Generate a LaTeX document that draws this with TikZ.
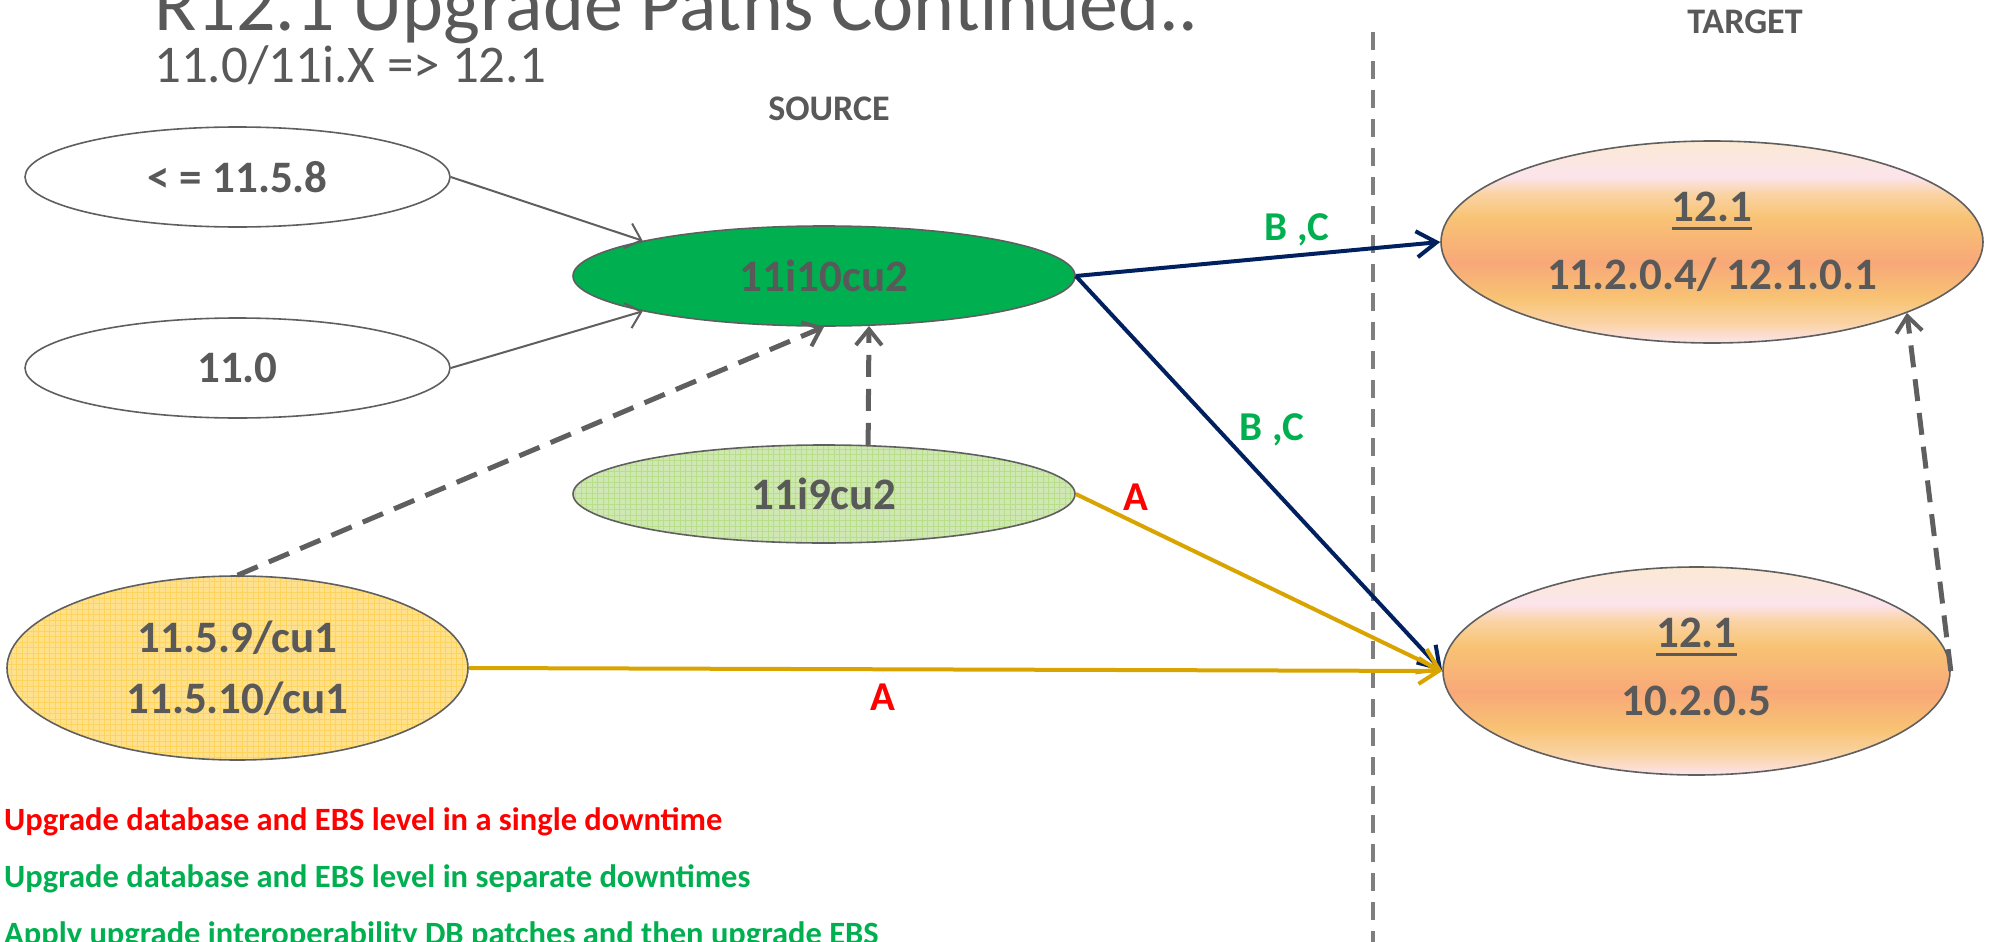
\documentclass[tikz,border=0pt]{standalone}
\usepackage{fontspec}
\setmainfont{Carlito}
\usetikzlibrary{shapes.geometric,arrows.meta}
\definecolor{txtgray}{HTML}{595959}
\definecolor{linegray}{HTML}{5F5F5F}
\definecolor{divgray}{HTML}{7F7F7F}
\definecolor{ebsgreen}{HTML}{00B050}
\definecolor{ebsred}{HTML}{FF0000}
\definecolor{navy}{HTML}{002060}
\definecolor{gold}{HTML}{D9A400}
\definecolor{lgbase}{HTML}{CFE7B2}
\definecolor{lggrid}{HTML}{9BD35A}
\definecolor{ybase}{HTML}{FFE08C}
\definecolor{ygrid}{HTML}{FFC524}
\definecolor{tpink}{HTML}{FCE4EC}
\definecolor{tcream}{HTML}{FBE9D3}
\definecolor{tlorange}{HTML}{FAD3A4}
\definecolor{torange}{HTML}{F8C374}
\definecolor{tsalmon}{HTML}{F8A878}
\pgfdeclareverticalshading{tgtshade}{100bp}{color(0bp)=(tpink); color(25bp)=(tpink); color(30bp)=(tlorange); color(36bp)=(torange); color(45bp)=(tsalmon); color(56bp)=(torange); color(62bp)=(tlorange); color(66bp)=(tpink); color(75bp)=(tcream); color(100bp)=(tcream)}
\newcommand\ulx[1]{\setbox0\hbox{#1}\rlap{\rule[-8.5pt]{\wd0}{3pt}}\box0}
\tikzset{
  ver/.style={ellipse, draw=linegray, line width=1.6pt, inner sep=0pt, text=txtgray,
    font=\bfseries\fontsize{45}{61}\selectfont, align=center},
  plainell/.style={ver, fill=white},
  darkgreen/.style={ver, fill=ebsgreen},
  gridfill/.style 2 args={path picture={
      \fill[#1] (path picture bounding box.south west) rectangle (path picture bounding box.north east);
      \draw[#2, line width=1.1pt, step=11pt] (path picture bounding box.south west) grid (path picture bounding box.north east);
      \draw[#2!45!#1, line width=0.5pt, step=5.5pt] (path picture bounding box.south west) grid (path picture bounding box.north east);}},
  tgt/.style={ver, shading=tgtshade, font=\bfseries\fontsize{45}{68}\selectfont},
  plaintext/.style={inner sep=0pt, anchor=base west},
  lbl/.style={inner sep=0pt, anchor=base, font=\bfseries\fontsize{41}{49}\selectfont},
  legend/.style={inner sep=0pt, anchor=base west, font=\bfseries\fontsize{32.5}{39}\selectfont},
  head/.style={inner sep=0pt, anchor=base, text=txtgray, font=\bfseries\fontsize{36}{43}\selectfont},
  thinarrow/.style={draw=linegray, line width=2pt, -{Straight Barb[length=14pt,width=26pt,line width=2pt]}},
  dasharrow/.style={draw=linegray, line width=5pt, dash pattern=on 22pt off 12pt, -{Straight Barb[length=16pt,width=26pt,line width=4pt]}},
  navyarrow/.style={draw=navy, line width=4pt, -{Straight Barb[length=20pt,width=26pt,line width=4pt]}},
  goldarrow/.style={draw=gold, line width=4pt, -{Straight Barb[length=20pt,width=26pt,line width=4pt]}},
  divider/.style={draw=divgray, line width=4pt, dash pattern=on 18pt off 11pt}
}
\begin{document}
\begin{tikzpicture}[x=1pt,y=-1pt]
\useasboundingbox (0,0) rectangle (1995,942);
% titles
\node[plaintext, text=txtgray, font=\fontsize{78}{90}\selectfont] (title) at (154,31) {R12.1 Upgrade Paths Continued..};
\node[plaintext, text=txtgray, font=\fontsize{53}{64}\selectfont] (subtitle) at (154,82) {11.0/11i.X => 12.1};
\node[head] (source) at (829,120) {SOURCE};
\node[head] (target) at (1745,34) {TARGET};
% divider
\coordinate (divtop) at (1373,32);
\coordinate (divbot) at (1373,942);
\draw[divider] (divtop) -- (divbot);
% source nodes
\node[plainell, minimum width=425pt, minimum height=100pt] (a) at (237.5,177) {< = 11.5.8};
\node[plainell, minimum width=425pt, minimum height=100pt] (b) at (237.5,368) {11.0};
\node[darkgreen, minimum width=502pt, minimum height=100pt] (c) at (824,276) {11i10cu2};
\node[ver, gridfill={lgbase}{lggrid}, minimum width=502pt, minimum height=98pt] (e) at (824,494) {11i9cu2};
\node[ver, gridfill={ybase}{ygrid}, minimum width=461pt, minimum height=184pt] (d) at (237.5,668) {11.5.9/cu1\\11.5.10/cu1};
% targets
\node[tgt, minimum width=542pt, minimum height=202pt] (t1) at (1712,242) {\ulx{12.1}\\11.2.0.4/ 12.1.0.1};
\node[tgt, minimum width=507pt, minimum height=208pt, text depth=9pt] (t2) at (1696.5,671) {\ulx{12.1}\\10.2.0.5};
% connectors
\draw[thinarrow] (a.east) -- (c.169);
\draw[thinarrow] (b.east) -- (c.191);
\draw[dasharrow] (d.north) -- (c.south);
\draw[dasharrow] (e.48) -- (c.-48);
\draw[navyarrow] (c.east) -- (t1.west);
\draw[navyarrow] (c.east) -- (t2.west);
\draw[goldarrow] (e.east) -- (t2.west);
\draw[goldarrow] (d.east) -- (t2.west);
\draw[dasharrow] (t2.east) -- (t1.-20);
% labels
\node[lbl, text=ebsgreen] (lbc1) at (1297,240) {B ,C};
\node[lbl, text=ebsgreen] (lbc2) at (1272,440) {B ,C};
\node[lbl, text=ebsred] (la1) at (1136,510) {A};
\node[lbl, text=ebsred] (la2) at (883,710) {A};
% legend
\node[legend, text=ebsred] (leg1) at (4,830) {Upgrade database and EBS level in a single downtime};
\node[legend, text=ebsgreen] (leg2) at (4,887) {Upgrade database and EBS level in separate downtimes};
\node[legend, text=ebsgreen] (leg3) at (4,944) {Apply upgrade interoperability DB patches and then upgrade EBS};
\end{tikzpicture}
\end{document}
